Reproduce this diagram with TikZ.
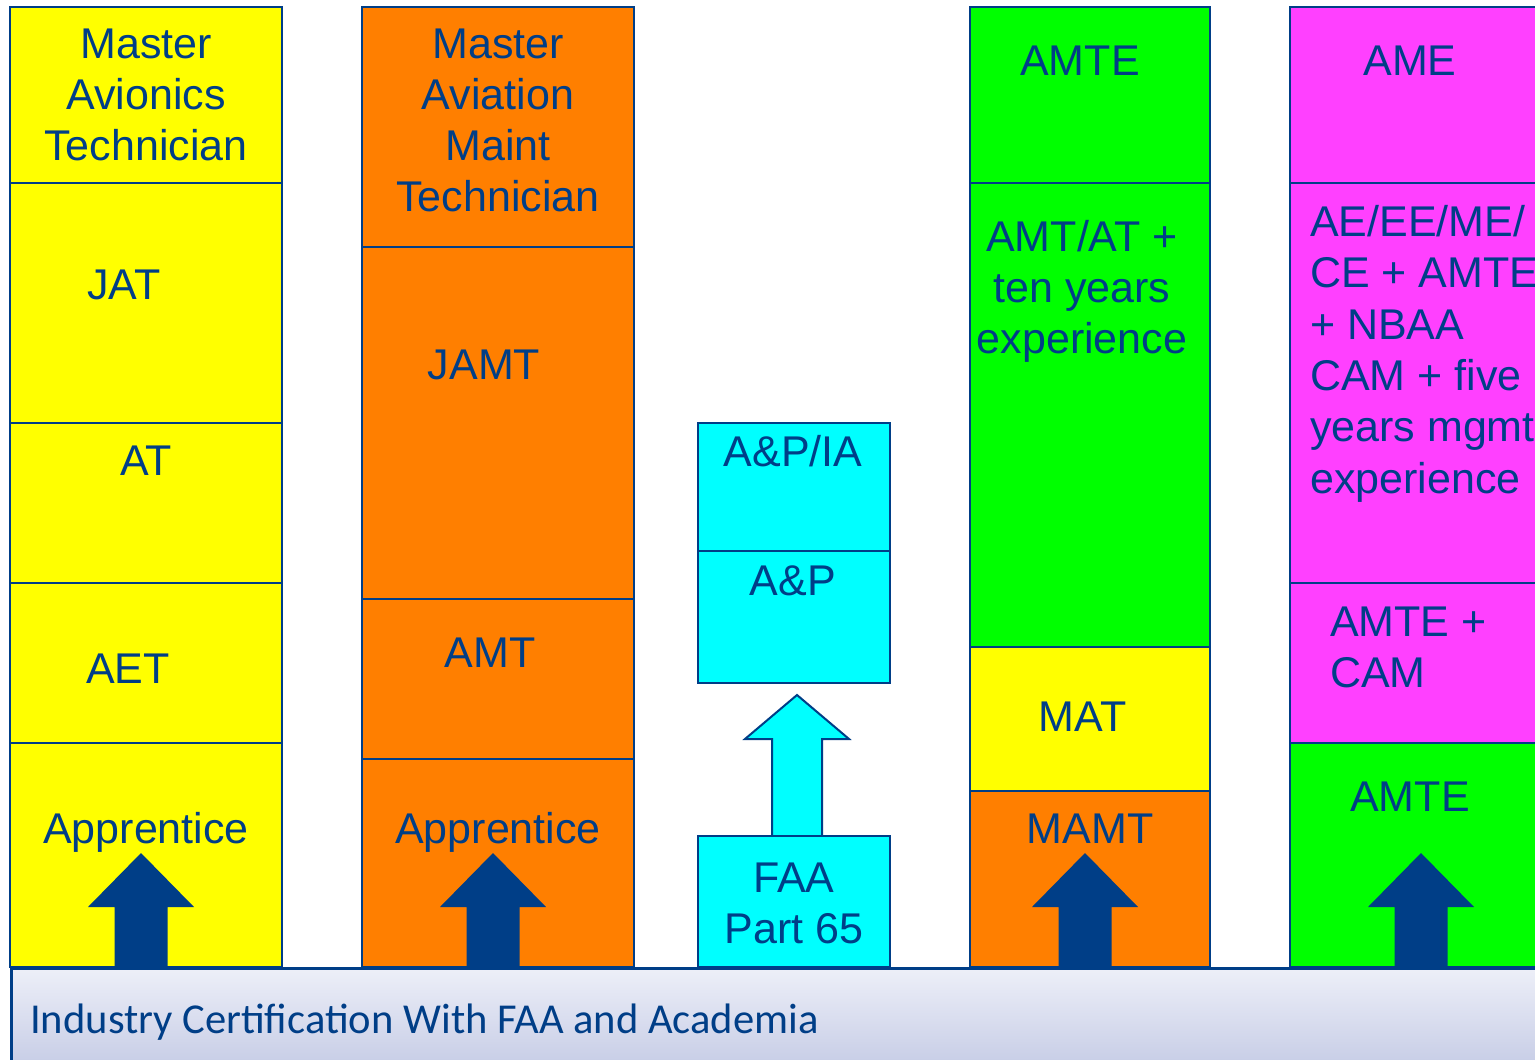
\documentclass[tikz,border=0pt]{standalone}
\usepackage{fontspec}
\setmainfont{Liberation Sans}
\newfontfamily\bannerfont{Carlito}
\definecolor{ln}{RGB}{0,62,135}
\definecolor{cyel}{RGB}{255,255,0}
\definecolor{corg}{RGB}{255,127,0}
\definecolor{ccyan}{RGB}{0,255,255}
\definecolor{cgrn}{RGB}{0,255,0}
\definecolor{cmag}{RGB}{255,64,255}
\definecolor{btop}{RGB}{237,239,248}
\definecolor{bbot}{RGB}{190,197,226}
\newcommand\cellbox[6]{\node[cell, fill=#6, minimum width={#4-#2}, minimum height={#5-#3}] (#1) at (#2,#3) {};}
\begin{document}
\begin{tikzpicture}[x=1pt,y=-1pt,
  cell/.style={draw=ln, line width=2.5pt, anchor=north west, inner sep=0pt, outer sep=0pt},
  lbl/.style={text=ln, font=\fontsize{43}{51}\selectfont, inner sep=0pt, align=center},
  lbll/.style={text=ln, font=\fontsize{43}{51.4}\selectfont, inner sep=0pt, align=left, anchor=north west},
  pics/solidup/.style={code={
    \fill[ln] (-26.5,0) -- (-26.5,-60) -- (-53,-60) -- (0,-114) -- (53,-60) -- (26.5,-60) -- (26.5,0) -- cycle;}},
  pics/hollowup/.style={code={
    \draw[ln, fill=ccyan, line width=2pt, line join=miter] (-25,0) -- (-25,-97) -- (-52,-97) -- (0,-141) -- (52,-97) -- (25,-97) -- (25,0);}}
]
\useasboundingbox (0,0) rectangle (1535,1060);
\fill[white] (0,0) rectangle (1535,1060);
\clip (0,0) rectangle (1535,1060);

% column 1
\cellbox{c1a}{10}{7}{282}{183}{cyel}
\cellbox{c1b}{10}{183}{282}{423}{cyel}
\cellbox{c1c}{10}{423}{282}{583}{cyel}
\cellbox{c1d}{10}{583}{282}{743}{cyel}
\cellbox{c1e}{10}{743}{282}{967}{cyel}
% column 2
\cellbox{c2a}{362}{7}{634}{247}{corg}
\cellbox{c2b}{362}{247}{634}{599}{corg}
\cellbox{c2c}{362}{599}{634}{759}{corg}
\cellbox{c2d}{362}{759}{634}{967}{corg}
% column 3
\cellbox{c3a}{698}{423}{890}{551}{ccyan}
\cellbox{c3b}{698}{551}{890}{683}{ccyan}
\pic at (797,836) {hollowup};
\cellbox{c3c}{698}{836}{890}{967}{ccyan}
% column 4
\cellbox{c4a}{970}{7}{1210}{183}{cgrn}
\cellbox{c4b}{970}{183}{1210}{647}{cgrn}
\cellbox{c4c}{970}{647}{1210}{791}{cyel}
\cellbox{c4d}{970}{791}{1210}{967}{corg}
% column 5
\cellbox{c5a}{1290}{7}{1560}{183}{cmag}
\cellbox{c5b}{1290}{183}{1560}{583}{cmag}
\cellbox{c5c}{1290}{583}{1560}{743}{cmag}
\cellbox{c5d}{1290}{743}{1560}{967}{cgrn}

% solid arrows
\pic at (141,967) {solidup};
\pic at (493,967) {solidup};
\pic at (1085,967) {solidup};
\pic at (1421,967) {solidup};

% banner
\node[anchor=north west, draw=ln, line width=2.5pt, top color=btop, bottom color=bbot,
      minimum width=1560pt, minimum height=120pt, inner sep=0pt] (banner) at (10,967) {};
\node[anchor=base west, text=ln, font=\bannerfont\fontsize{42.6}{50}\selectfont, inner sep=0pt]
  (bannertxt) at (30,1033) {Industry Certification With FAA and Academia};

% labels column 1
\node[lbl, anchor=north] (t1a) at (146,29) {Master\\Avionics\\Technician};
\node[lbl, anchor=base] (t1b) at (124,299.5) {JAT};
\node[lbl, anchor=base] (t1c) at (146,475.5) {AT};
\node[lbl, anchor=base] (t1d) at (128,683.5) {AET};
\node[lbl, anchor=base] (t1e) at (146,843) {Apprentice};
% labels column 2
\node[lbl, anchor=north] (t2a) at (498,29) {Master\\Aviation\\Maint\\Technician};
\node[lbl, anchor=base] (t2b) at (484,379.5) {JAMT};
\node[lbl, anchor=base] (t2c) at (490,667.5) {AMT};
\node[lbl, anchor=base] (t2d) at (498,843) {Apprentice};
% labels column 3
\node[lbl, anchor=base] (t3a) at (793,466) {A\&P/IA};
\node[lbl, anchor=base] (t3b) at (793,595) {A\&P};
\node[lbl, anchor=north] (t3c) at (794,862.5) {FAA\\Part 65};
% labels column 4
\node[lbl, anchor=base] (t4a) at (1080,75.5) {AMTE};
\node[lbl, anchor=north] (t4b) at (1082,220.5) {AMT/AT +\\ten years\\experience};
\node[lbl, anchor=base] (t4c) at (1082.5,731) {MAT};
\node[lbl, anchor=base] (t4d) at (1090,843) {MAMT};
% labels column 5
\node[lbl, anchor=base] (t5a) at (1410,75.5) {AME};
\node[lbll] (t5b) at (1310,205) {AE/EE/ME/\\CE + AMTE\\+ NBAA\\CAM + five\\years mgmt\\experience};
\node[lbll] (t5c) at (1330,606.5) {AMTE +\\CAM};
\node[lbl, anchor=base] (t5d) at (1410,811) {AMTE};
\end{tikzpicture}
\end{document}
